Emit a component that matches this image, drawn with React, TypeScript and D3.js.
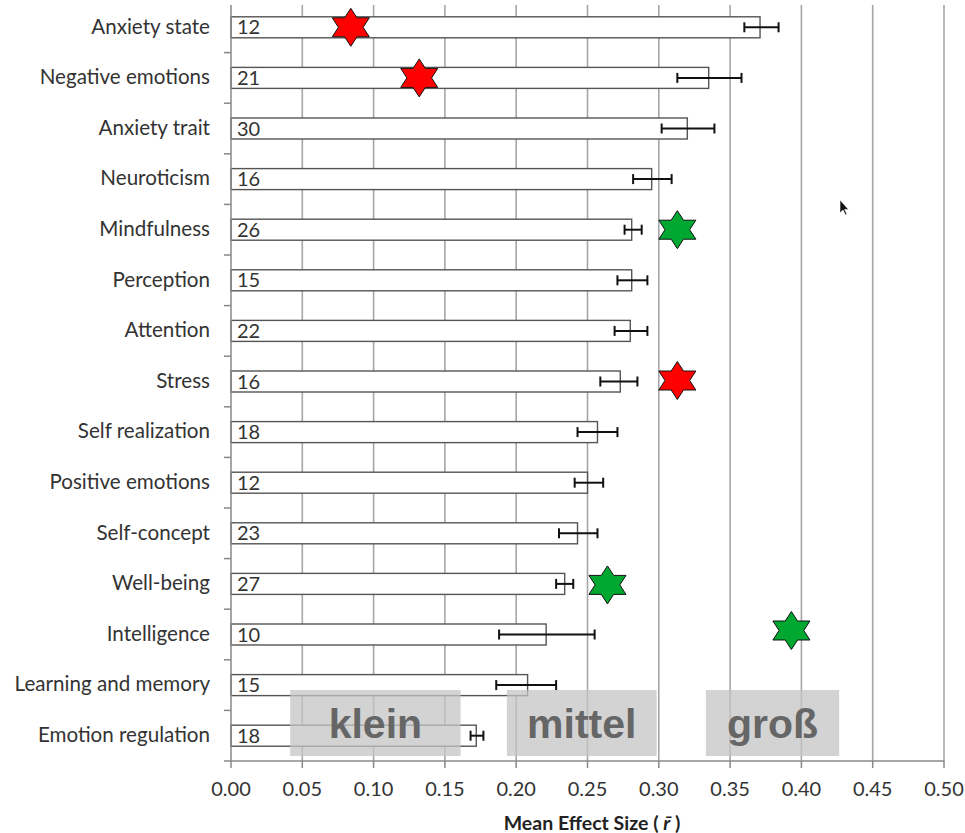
import React from "react";
import * as d3 from "d3";

const categories = [
  "Anxiety state",
  "Negative emotions",
  "Anxiety trait",
  "Neuroticism",
  "Mindfulness",
  "Perception",
  "Attention",
  "Stress",
  "Self realization",
  "Positive emotions",
  "Self-concept",
  "Well-being",
  "Intelligence",
  "Learning and memory",
  "Emotion regulation",
];
const meanR = [0.371, 0.335, 0.32, 0.295, 0.281, 0.281, 0.28, 0.273, 0.257, 0.25, 0.243, 0.234, 0.221, 0.208, 0.172];
const ciLow = [0.36, 0.313, 0.302, 0.282, 0.276, 0.271, 0.269, 0.259, 0.243, 0.241, 0.23, 0.228, 0.188, 0.186, 0.168];
const ciHigh = [0.384, 0.358, 0.339, 0.309, 0.288, 0.292, 0.292, 0.285, 0.271, 0.261, 0.257, 0.24, 0.255, 0.228, 0.177];
const kValues = [12, 21, 30, 16, 26, 15, 22, 16, 18, 12, 23, 27, 10, 15, 18];

const starCategories = ["Anxiety state", "Negative emotions", "Mindfulness", "Stress", "Well-being", "Intelligence"];
const starValues = [0.084, 0.132, 0.313, 0.313, 0.264, 0.393];
const starColors = ["#ff0000", "#ff0000", "#00a832", "#ff0000", "#00a832", "#00a832"];
const starOffsets = [0, 0, 0, -1, 1, -4];

const xTicks = [0, 0.05, 0.1, 0.15, 0.2, 0.25, 0.3, 0.35, 0.4, 0.45, 0.5];

const zoneLabels = ["klein", "mittel", "groß"];
const zoneStart = [0.0415, 0.1935, 0.333];
const zoneEnd = [0.161, 0.2985, 0.4265];

const W = 965;
const H = 833;
const left = 231;
const right = 944;
const top = 2;
const bottom = 761;

function starPath(cx: number, cy: number, rx: number, ry: number, ratio: number) {
  const pts: [number, number][] = [];
  for (let i = 0; i < 12; i++) {
    const a = -Math.PI / 2 + (i * Math.PI) / 6;
    const r = i % 2 === 0 ? 1 : ratio;
    pts.push([cx + Math.cos(a) * rx * r, cy + Math.sin(a) * ry * r]);
  }
  return d3.line()(pts) + "Z";
}

export default function App() {
  const x = d3.scaleLinear().domain([0, 0.5]).range([left, right]);
  const y = d3.scaleBand<string>().domain(categories).range([top, bottom]).padding(0);
  const bw = y.bandwidth();
  const barH = 21;
  const font = "Lato, 'Open Sans', sans-serif";
  const boundaries = d3.range(categories.length + 1).map((i) => top + i * bw);

  return (
    <svg
      width={W}
      height={H}
      style={{ position: "absolute", left: 0, top: 0, background: "#fff" }}
    >
      <rect x={0} y={0} width={W} height={H} fill="#fff" />
      {/* gridlines */}
      {xTicks.slice(1).map((t) => (
        <line key={"g" + t} x1={x(t)} x2={x(t)} y1={5} y2={bottom} stroke="#a6a6a6" strokeWidth={1.6} />
      ))}
      {/* bars */}
      {categories.map((c, i) => {
        const cy = (y(c) as number) + bw / 2;
        return (
          <g key={c}>
            <rect
              x={x(0)}
              y={cy - barH / 2}
              width={x(meanR[i]) - x(0)}
              height={barH}
              fill="#fff"
              stroke="#555"
              strokeWidth={1.4}
            />
            <text x={x(0) + 6} y={cy + 2} dominantBaseline="middle" fontFamily={font} fontSize={20} fill="#333">
              {kValues[i]}
            </text>
            <line x1={x(ciLow[i])} x2={x(ciHigh[i])} y1={cy} y2={cy} stroke="#111" strokeWidth={2} />
            <line x1={x(ciLow[i])} x2={x(ciLow[i])} y1={cy - 5} y2={cy + 5} stroke="#111" strokeWidth={2} />
            <line x1={x(ciHigh[i])} x2={x(ciHigh[i])} y1={cy - 5} y2={cy + 5} stroke="#111" strokeWidth={2} />
            <text
              x={210}
              y={cy + 1}
              textAnchor="end"
              dominantBaseline="middle"
              fontFamily={font}
              fontSize={20.6}
              fill="#333"
            >
              {c}
            </text>
          </g>
        );
      })}
      {/* axes */}
      <line x1={left} x2={left} y1={5} y2={bottom} stroke="#888" strokeWidth={1.5} />
      <line x1={left} x2={right} y1={bottom} y2={bottom} stroke="#888" strokeWidth={1.5} />
      {boundaries.slice(1).map((b, i) => (
        <line key={"yt" + i} x1={left - 7} x2={left} y1={b} y2={b} stroke="#888" strokeWidth={1.5} />
      ))}
      {xTicks.map((t) => (
        <g key={"xt" + t}>
          <line x1={x(t)} x2={x(t)} y1={bottom} y2={bottom + 7} stroke="#888" strokeWidth={1.5} />
          <text x={x(t)} y={791} textAnchor="middle" dominantBaseline="middle" fontFamily={font} fontSize={20} fill="#333">
            {t.toFixed(2)}
          </text>
        </g>
      ))}
      <text x={592} y={830} textAnchor="middle" fontFamily={font} fontSize={19.5} fontWeight="bold" fill="#222">
        Mean Effect Size ({" "}
        <tspan fontStyle="italic">{"r\u0304"}</tspan>
        {" )"}
      </text>
      {/* stars */}
      {starCategories.map((c, i) => {
        const cy = (y(c) as number) + bw / 2 + starOffsets[i];
        return (
          <path
            key={"s" + i}
            d={starPath(x(starValues[i]), cy, 21.4, 19, 0.577)}
            fill={starColors[i]}
            stroke="#111"
            strokeWidth={1}
          />
        );
      })}
      {/* zone boxes */}
      {zoneLabels.map((z, i) => (
        <g key={z}>
          <rect
            x={x(zoneStart[i])}
            y={bottom - 71}
            width={x(zoneEnd[i]) - x(zoneStart[i])}
            height={66}
            fill="#c4c4c4"
            fillOpacity={0.75}
          />
          <text
            x={(x(zoneStart[i]) + x(zoneEnd[i])) / 2}
            y={738}
            textAnchor="middle"
            fontFamily="'Liberation Sans', Arial, sans-serif"
            fontWeight="bold"
            fontSize={41}
            fill="#666"
          >
            {z}
          </text>
        </g>
      ))}
      {/* mouse cursor */}
      <path d="M840,200 L840,213 L843,210 L845.5,215 L847,214.3 L844.6,209.4 L848.5,209.4 Z" fill="#111" stroke="#fff" strokeWidth={0.6} />
    </svg>
  );
}
